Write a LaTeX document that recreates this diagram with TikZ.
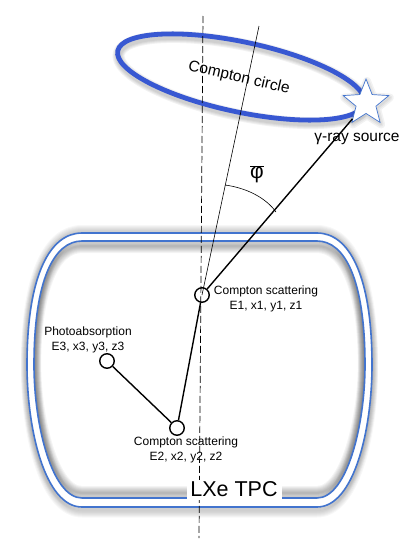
\documentclass[tikz,border=0pt]{standalone}
\usepackage{fontspec}
\setmainfont{Liberation Sans}
\usetikzlibrary{shapes.geometric,calc}
\definecolor{tpcblue}{RGB}{66,116,206}
\definecolor{ringblue}{RGB}{56,88,210}
\tikzset{
  tpcout/.style={insert path={(82,233) -- (317,233) .. controls (349,233) and (372,275) .. (372,365) .. controls (372,430) and (354,507) .. (317,507) -- (82,507) .. controls (45,507) and (27,430) .. (27,365) .. controls (27,275) and (50,233) .. (82,233) -- cycle}},
  tpcin/.style={insert path={(82,241) -- (317,241) .. controls (345,241) and (365,280) .. (365,365) .. controls (365,425) and (347,498) .. (317,498) -- (82,498) .. controls (52,498) and (34,425) .. (34,365) .. controls (34,280) and (54,241) .. (82,241) -- cycle}},
  soft/.style={draw=black,opacity=.05,line join=round},
  softer/.style={draw=black,opacity=.03,line join=round},
  hit/.style={circle,draw=black,line width=1.4pt,minimum size=14.5pt,inner sep=0pt},
  label/.style={font=\fontsize{12pt}{15.5pt}\selectfont,align=center,inner sep=0pt},
  track/.style={line width=1.4pt,draw=black},
  thinline/.style={line width=.6pt,draw=black},
  axis/.style={line width=.7pt,draw=black,dash pattern=on 7pt off 3pt},
  ring/.style={ellipse,draw=ringblue,line width=4.8pt,minimum width=252pt,minimum height=70pt,inner sep=0pt,rotate=-12},
  source/.style={star,star points=5,star point ratio=2.3,minimum size=48pt,inner sep=0pt,draw=tpcblue,fill=white,line width=.7pt}
}
\begin{document}
\begin{tikzpicture}[x=1pt,y=-1pt]
\useasboundingbox (0,0) rectangle (415,549);
% TPC vessel with its soft shadows
\foreach \s in {-4.5pt,2pt} {
  \begin{scope}[yshift=\s]
    \foreach \w in {12,10,...,2} {\draw[softer,line width=\w pt,tpcout];}
  \end{scope}
}
\fill[white,tpcout];
\begin{scope}
  \clip[tpcin];
  \foreach \s in {-5pt,5pt} {
    \begin{scope}[yshift=\s]
      \foreach \w in {14,12,...,2} {\draw[softer,opacity=.045,line width=\w pt,tpcin];}
    \end{scope}
  }
\end{scope}
\draw[tpcblue,line width=1.6pt,tpcout];
\draw[tpcblue,line width=1.6pt,tpcin];
% Ring shadow
\begin{scope}[yshift=-3pt,xshift=1pt]
  \foreach \w in {12,10,8,6} {\draw[soft,line width=\w pt,rotate around={-12:(241,77)}] (241,77) ellipse (126pt and 35pt);}
\end{scope}
\node[ring] (circle) at (241,77) {};
\node[label,font=\fontsize{15.5pt}{17pt}\selectfont,rotate=-13] (circlelabel) at (239,78) {Compton circle};
% Points
\coordinate (axistop) at (203,16);
\coordinate (axisbottom) at (199,538);
\coordinate (thintop) at (259,26);
\node[hit] (h1) at (202,295) {};
\node[hit,fill=white] (h2) at (177,428) {};
\node[hit,fill=white] (h3) at (107,361) {};
\draw[axis] (axistop) -- (axisbottom);
\draw[thinline] (thintop) -- (h1.center);
% Source
\foreach \w in {8,5,2} {\node[star,star points=5,star point ratio=2.3,minimum size=48pt,inner sep=0pt,soft,line width=\w pt] (sh\w) at (367,105) {};}
\node[source] (src) at (366,103) {};
\draw[track] (src) -- (h1);
\draw[track] (h1) -- (h2);
\draw[track] (h2) -- (h3);
% Angle arc
\draw[line width=.6pt] (225,185) .. controls (247,188) and (266,198) .. (276,212);
% Labels
\node[label,font=\fontsize{15.5pt}{17pt}\selectfont] (srclabel) at (357,139) {γ-ray source};
\node[label,font=\fontsize{21pt}{22pt}\selectfont] (philabel) at (257,174) {$\overline{\hbox{φ}}$};
\node[label] (l1) at (266,299) {Compton scattering\\E1, x1, y1, z1};
\node[label] (l2) at (186,450) {Compton scattering\\E2, x2, y2, z2};
\node[label] (l3) at (88,340) {Photoabsorption\\E3, x3, y3, z3};
\fill[white] (187,480) rectangle (282,500.2);
\node[label,font=\fontsize{21.5pt}{24pt}\selectfont] (tpc) at (234,489) {LXe TPC};
\end{tikzpicture}
\end{document}
